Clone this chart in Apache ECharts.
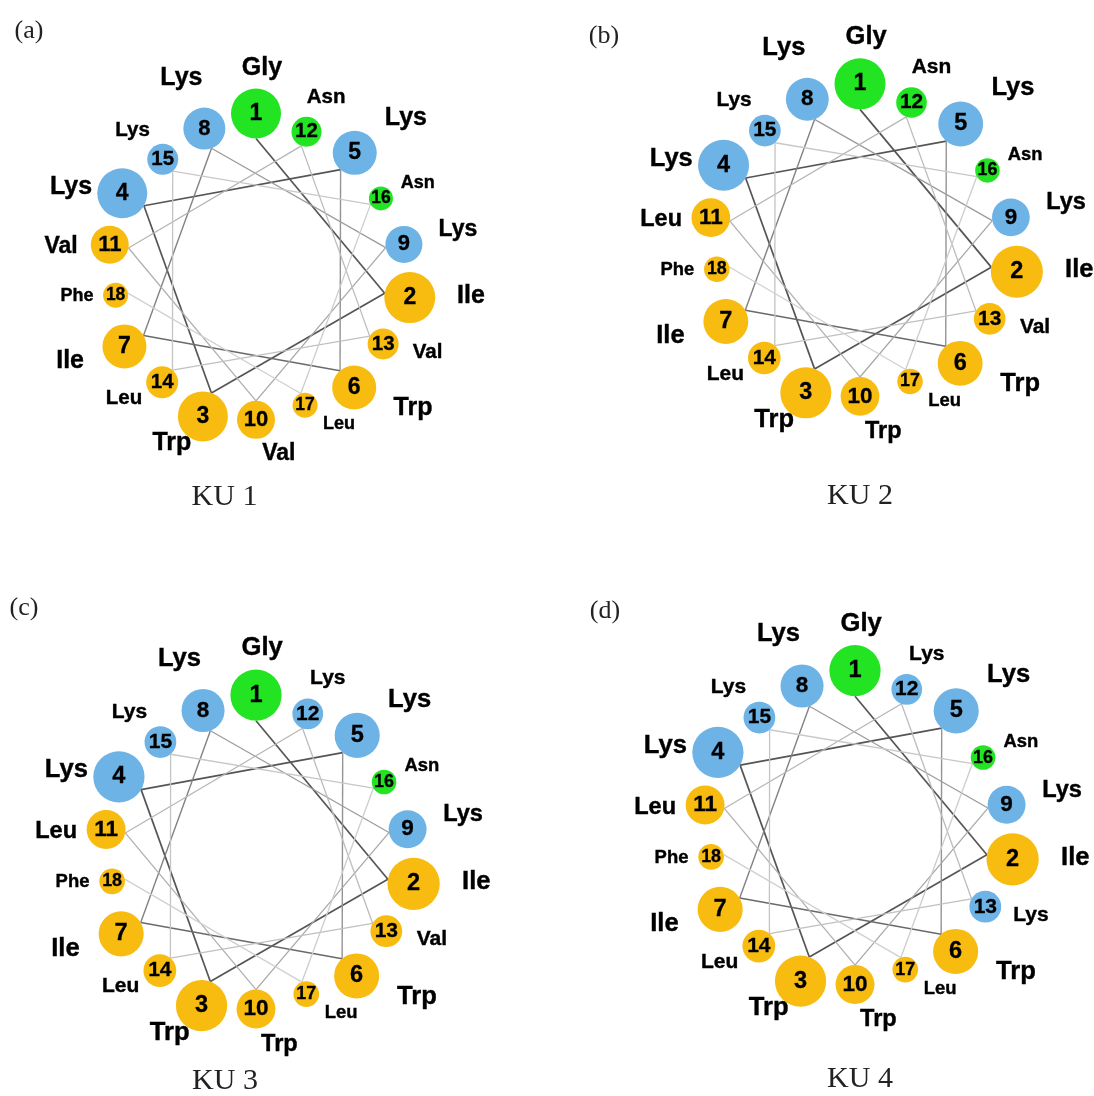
<!DOCTYPE html>
<html>
<head>
<meta charset="utf-8">
<script src="https://cdn.jsdelivr.net/npm/echarts@6/dist/echarts.min.js"></script>
<style>
html,body{margin:0;padding:0;background:#fff;}
#chart{width:1094px;height:1096px;}
</style>
</head>
<body>
<div id="chart"></div>
<script>
// ---------------- DATA ----------------
const residueNumbers = [1,2,3,4,5,6,7,8,9,10,11,12,13,14,15,16,17,18];
const degreesPerResidue = 100; // alpha-helix: 100 degrees per residue
const ku1 = ['Gly','Ile','Trp','Lys','Lys','Trp','Ile','Lys','Lys','Val','Val','Asn','Val','Leu','Lys','Asn','Leu','Phe'];
const ku2 = ['Gly','Ile','Trp','Lys','Lys','Trp','Ile','Lys','Lys','Trp','Leu','Asn','Val','Leu','Lys','Asn','Leu','Phe'];
const ku3 = ['Gly','Ile','Trp','Lys','Lys','Trp','Ile','Lys','Lys','Trp','Leu','Lys','Val','Leu','Lys','Asn','Leu','Phe'];
const ku4 = ['Gly','Ile','Trp','Lys','Lys','Trp','Ile','Lys','Lys','Trp','Leu','Lys','Lys','Leu','Lys','Asn','Leu','Phe'];
const panelTags = ['(a)','(b)','(c)','(d)'];
const panelTitles = ['KU 1','KU 2','KU 3','KU 4'];
const residueClass = {Gly:'polar',Asn:'polar',Lys:'charged',Ile:'hydrophobic',Trp:'hydrophobic',Val:'hydrophobic',Leu:'hydrophobic',Phe:'hydrophobic'};

// ---------------- STYLE / LAYOUT ----------------
const classColor = {polar:'#22e422', charged:'#6db3e6', hydrophobic:'#f8bb10'};
const wheelR   = residueNumbers.map(n => 157 - 0.85*(n-1));
const circleR  = [25,25.5,25,25,22,22,22,21,18.5,19,19,15,15.5,16,15.5,12,12.5,12.5];
const numFont  = [23,23,23,23,23,23,23,22,22,22,22,20.5,20.5,20.5,20.5,17.5,17.5,17.5];
const nameFont = [25,25,25,25,25,25,25,25,23,23,23,20.5,20.5,20.5,20.5,18,18,18];
const labelR   = [202.6,216.5,191.9,203,213.9,208.7,206.8,206.4,206,185,196.4,187,190,183.5,187,184,174.5,180.8];
const labelDev = [-1.7,3.2,-6,5.7,-4.5,8.8,-4,1.2,1.3,7.1,3.1,-2,4.6,-6,1.3,-1.6,8.4,-1.9];
const segColor = ['#555','#555','#555','#555','#949494','#6a6a6a','#828282','#9c9c9c','#a8a8a8','#b0b0b0','#b6b6b6','#bcbcbc','#c0c0c0','#c4c4c4','#c8c8c8','#cccccc','#d0d0d0'];
const segWidth = [1.7,1.7,1.7,1.7,1.4,1.5,1.4,1.3,1.3,1.3,1.3,1.3,1.3,1.3,1.3,1.3,1.3];

const panels = [
  {seq:ku1, center:[256,270.5], s:1.0,   tag:[29,31],    title:[224.5,497]},
  {seq:ku2, center:[860,244],   s:1.02,  tag:[604,36],   title:[860,496]},
  {seq:ku3, center:[256,856],   s:1.025, tag:[24,608],   title:[225,1081]},
  {seq:ku4, center:[855,831.5], s:1.025, tag:[605,611],  title:[860,1079]}
];
const MAXR = 230;
const SANS = 'Liberation Sans, Arial, sans-serif';

const angleOf = n => ((n-1)*degreesPerResidue) % 360;

const polar = [], angleAxis = [], radiusAxis = [], series = [], graphic = [];
panels.forEach((p, i) => {
  polar.push({center:p.center, radius: MAXR*p.s});
  angleAxis.push({polarIndex:i, type:'value', min:0, max:360, startAngle:90, clockwise:true, show:false,
    axisLine:{show:false}, axisTick:{show:false}, axisLabel:{show:false}, splitLine:{show:false}});
  radiusAxis.push({polarIndex:i, type:'value', min:0, max:MAXR, show:false,
    axisLine:{show:false}, axisTick:{show:false}, axisLabel:{show:false}, splitLine:{show:false}});

  // connecting lines (inner edge of each circle)
  for (let k = 0; k < residueNumbers.length - 1; k++) {
    const a = residueNumbers[k], b = residueNumbers[k+1];
    series.push({
      type:'line', coordinateSystem:'polar', polarIndex:i, symbol:'none', silent:true, z:1,
      lineStyle:{color:segColor[k], width:segWidth[k]},
      data:[[wheelR[k]-circleR[k], angleOf(a)], [wheelR[k+1]-circleR[k+1], angleOf(b)]]
    });
  }
  // residue circles
  series.push({
    type:'scatter', coordinateSystem:'polar', polarIndex:i, silent:true, z:2,
    data: residueNumbers.map((n,k) => ({
      value:[wheelR[k], angleOf(n)],
      symbolSize: 2*circleR[k]*p.s,
      itemStyle:{color: classColor[residueClass[p.seq[k]]], opacity:1},
      label:{show:true, position:'inside', formatter:String(n), color:'#000',
        textBorderColor:'#000', textBorderWidth:0.3,
        fontWeight:'bold', fontFamily:SANS, fontSize:numFont[k]*p.s}
    }))
  });
  // residue names
  series.push({
    type:'scatter', coordinateSystem:'polar', polarIndex:i, silent:true, z:3,
    symbol:'circle', symbolSize:0, itemStyle:{color:'#000', opacity:1},
    data: residueNumbers.map((n,k) => ({
      value:[labelR[k], angleOf(n) - labelDev[k]],
      label:{show:true, position:'inside', formatter:p.seq[k], color:'#000', opacity:1,
        textBorderColor:'#000', textBorderWidth:0.4,
        fontWeight:'bold', fontFamily:SANS, fontSize:nameFont[k]*p.s}
    }))
  });

  graphic.push({type:'text', x:p.tag[0], y:p.tag[1], silent:true,
    style:{text:panelTags[i], fill:'#222', font:'26px "Liberation Serif", "Times New Roman", serif', align:'center', verticalAlign:'middle'}});
  graphic.push({type:'text', x:p.title[0], y:p.title[1], silent:true,
    style:{text:panelTitles[i], fill:'#222', font:'30px "Liberation Serif", "Times New Roman", serif', align:'center', verticalAlign:'middle'}});
});

const chart = echarts.init(document.getElementById('chart'), null, {renderer:'canvas'});
chart.setOption({
  animation:false,
  backgroundColor:'#ffffff',
  polar, angleAxis, radiusAxis, series, graphic
});
</script>
</body>
</html>
